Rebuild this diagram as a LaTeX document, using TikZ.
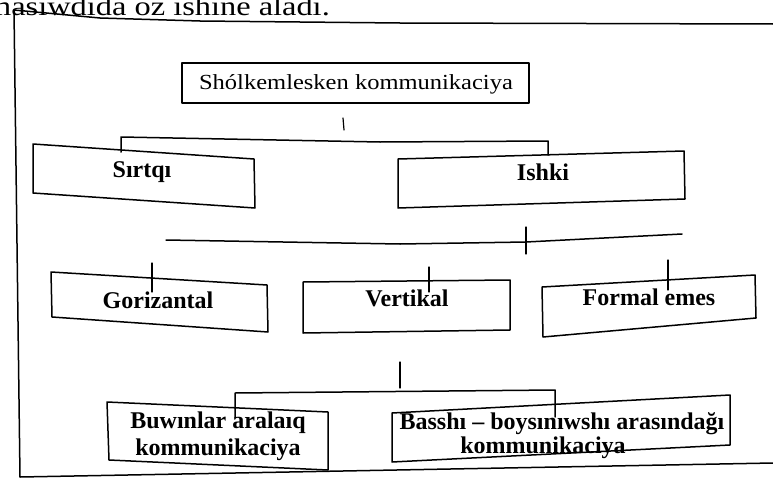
\documentclass[tikz,border=0pt]{standalone}
\usepackage{fontspec}
\usepackage{graphicx}
\setmainfont{Liberation Serif}
\begin{document}
\begin{tikzpicture}[x=1pt,y=-1pt,
  ln/.style={line width=1.5pt, line join=round, line cap=round},
  thin/.style={line width=1.2pt, line cap=round},
  lbl/.style={anchor=base, inner sep=0pt, font=\fontsize{24}{27}\selectfont\bfseries},
  reg/.style={anchor=base, inner sep=0pt, font=\fontsize{21.5}{24}\selectfont}]
\useasboundingbox (0,0) rectangle (773,479);
\clip (0,0) rectangle (773,479);
\fill[white] (0,0) rectangle (773,479);

% top running text (cut by the page edge, as in the scan)
\node[anchor=base east, inner sep=0pt, font=\fontsize{27}{30}\selectfont] (toptext) at (330,16) {\scalebox{1.2}[1]{masiwdida oz ishine aladı.}};

% frame
\coordinate (fr1) at (773,24); \coordinate (fr2) at (400,23);
\coordinate (fr3) at (200,21); \coordinate (fr4) at (100,18);
\coordinate (fr5) at (14,10); \coordinate (fr6) at (20,477);
\coordinate (fr7) at (773,463);
\draw[ln] (fr1) -- (fr2) -- (fr3) -- (fr4) -- (fr5) -- (fr6) -- (fr7);

% top box
\draw[ln] (182,63) rectangle (529,103);
\node[reg] (root) at (356,89) {\scalebox{1.14}[1]{Shólkemlesken kommunikaciya}};

% tick under top box and bracket
\coordinate (t1a) at (343,118); \coordinate (t1b) at (344,130);
\draw[thin] (t1a) -- (t1b);
\coordinate (b1l) at (121,152); \coordinate (b1lt) at (121,137);
\coordinate (b1m) at (380,142);
\coordinate (b1rt) at (548,141); \coordinate (b1r) at (548,155);
\draw[ln] (b1l) -- (b1lt) -- (b1m) -- (b1rt) -- (b1r);

% Sirtqi / Ishki boxes
\draw[ln] (33,144) -- (254,159) -- (255,208) -- (33,193) -- cycle;
\node[lbl] (sirtqi) at (142,177) {Sırtqı};
\draw[ln] (398,159) -- (684,151) -- (685,199) -- (398,208) -- cycle;
\node[lbl] (ishki) at (543,180) {Ishki};

% long line with tick
\coordinate (l2a) at (166,240); \coordinate (l2b) at (400,244);
\coordinate (l2c) at (526,242); \coordinate (l2d) at (682,234);
\draw[ln] (l2a) -- (l2b) -- (l2c) -- (l2d);
\coordinate (t2a) at (526,227); \coordinate (t2b) at (526,254);
\draw[thin] (t2a) -- (t2b);

% third row
\draw[ln] (51,272) -- (267,285) -- (268,332) -- (52,317) -- cycle;
\node[lbl] (goriz) at (158,308) {Gorizantal};
\draw[thin] (152,263) -- (152,292);

\draw[ln] (303,282) -- (510,280) -- (510,330) -- (303,333) -- cycle;
\node[lbl] (vert) at (407,306) {Vertikal};
\draw[thin] (429,267) -- (429,292);

\draw[ln] (542,287) -- (755,275) -- (756,318) -- (543,337) -- cycle;
\node[lbl] (formal) at (649,305) {Formal emes};
\draw[thin] (668,260) -- (668,290);

% bottom connector
\coordinate (t3a) at (400,362); \coordinate (t3b) at (400,388);
\draw[thin] (t3a) -- (t3b);
\coordinate (b3l) at (235,418); \coordinate (b3lt) at (235,393);
\coordinate (b3rt) at (555,390); \coordinate (b3r) at (555,417);
\draw[ln] (b3l) -- (b3lt) -- (b3rt) -- (b3r);

% bottom boxes
\draw[ln] (107,402) -- (328,412) -- (328,470) -- (109,460) -- cycle;
\node[lbl] (buw1) at (218,428) {Buwınlar aralaıq};
\node[lbl] (buw2) at (218,455) {kommunikaciya};

\draw[ln] (392,413) -- (730,395) -- (730,445) -- (392,462) -- cycle;
\node[lbl] (bas1) at (562,429) {Basshı – boysınıwshı arasındağı};
\node[lbl] (bas2) at (543,453) {kommunikaciya};
\end{tikzpicture}
\end{document}
